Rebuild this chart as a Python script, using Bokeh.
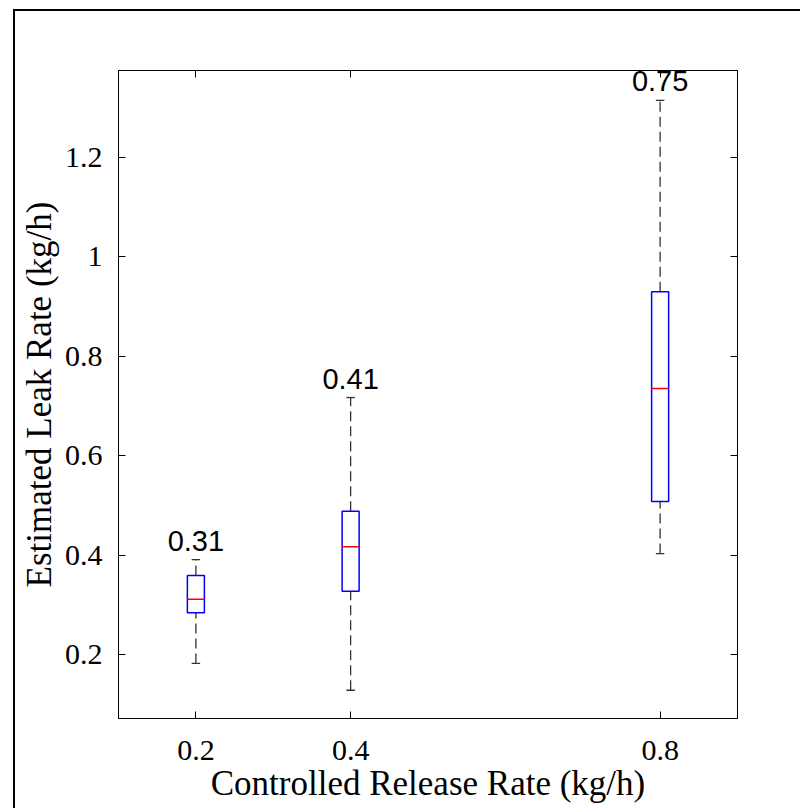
from bokeh.plotting import figure
from bokeh.models import ColumnDataSource, Range1d, LinearAxis, FixedTicker
from bokeh.core.properties import value
from bokeh.embed import file_html
from bokeh.resources import INLINE

positions = [0.2, 0.4, 0.8]
whisker_low = [0.182, 0.128, 0.403]
q1 = [0.284, 0.327, 0.508]
median = [0.311, 0.417, 0.735]
q3 = [0.359, 0.488, 0.930]
whisker_high = [0.391, 0.717, 1.315]
mean_labels = ["0.31", "0.41", "0.75"]
x_ticks = [0.2, 0.4, 0.8]
y_ticks = [0.2, 0.4, 0.6, 0.8, 1.0, 1.2]

box_w = 0.022
cap_w = box_w / 2

src = ColumnDataSource(dict(
    x=positions, lo=whisker_low, q1=q1, med=median, q3=q3, hi=whisker_high,
    left=[v - box_w / 2 for v in positions], right=[v + box_w / 2 for v in positions],
    cl=[v - cap_w / 2 for v in positions], cr=[v + cap_w / 2 for v in positions],
    label=mean_labels,
))

p = figure(width=787, height=799, output_backend="svg", toolbar_location=None,
           x_range=Range1d(0.1, 0.9), y_range=Range1d(0.0712, 1.375),
           min_border_left=103, min_border_top=59, min_border_right=65, min_border_bottom=92)
p.margin = (9, 0, 0, 13)
p.styles = {"border-left": "2px solid black", "border-top": "2px solid black"}
p.xgrid.visible = False
p.ygrid.visible = False
p.outline_line_color = "black"
p.outline_line_width = 1
p.background_fill_color = "white"
p.border_fill_color = "white"

serif = "Liberation Serif"
for ax in [p.xaxis[0], p.yaxis[0]]:
    ax.major_tick_in = 7
    ax.major_tick_out = 0
    ax.minor_tick_line_color = None
    ax.axis_line_color = "black"
    ax.major_tick_line_color = "black"
    ax.major_label_text_font = serif
    ax.major_label_text_font_size = "30px"
    ax.major_label_text_color = "black"
    ax.axis_label_text_font = serif
    ax.axis_label_text_font_size = "35px"
    ax.axis_label_text_font_style = "normal"
    ax.axis_label_text_color = "black"

p.xaxis[0].ticker = FixedTicker(ticks=x_ticks)
p.yaxis[0].ticker = FixedTicker(ticks=y_ticks)
p.xaxis[0].major_label_overrides = {0.2: "0.2", 0.4: "0.4", 0.8: "0.8"}
p.yaxis[0].major_label_overrides = {1.0: "1"}
p.xaxis[0].axis_label = "Controlled Release Rate (kg/h)"
p.yaxis[0].axis_label = "Estimated Leak Rate (kg/h)"
p.xaxis[0].major_label_standoff = 22
p.yaxis[0].major_label_standoff = 16
p.xaxis[0].axis_label_standoff = 1
p.yaxis[0].axis_label_standoff = 3

ax_top = LinearAxis(ticker=FixedTicker(ticks=x_ticks),
                    major_label_overrides={t: "" for t in x_ticks},
                    major_tick_in=7, major_tick_out=0, minor_tick_line_color=None,
                    axis_line_color="black")
ax_right = LinearAxis(ticker=FixedTicker(ticks=y_ticks),
                      major_label_overrides={t: "" for t in y_ticks},
                      major_tick_in=7, major_tick_out=0, minor_tick_line_color=None,
                      axis_line_color="black")
p.add_layout(ax_top, "above")
p.add_layout(ax_right, "right")

# whiskers
p.segment(x0="x", y0="q3", x1="x", y1="hi", source=src, line_color="#333333",
          line_width=1.3, line_dash="10 5")
p.segment(x0="x", y0="lo", x1="x", y1="q1", source=src, line_color="#333333",
          line_width=1.3, line_dash="10 5")
p.segment(x0="cl", y0="hi", x1="cr", y1="hi", source=src, line_color="#333333", line_width=1.3)
p.segment(x0="cl", y0="lo", x1="cr", y1="lo", source=src, line_color="#333333", line_width=1.3)
# boxes
p.quad(left="left", right="right", bottom="q1", top="q3", source=src,
       fill_color=None, line_color="#0000ff", line_width=1.5)
p.segment(x0="left", y0="med", x1="right", y1="med", source=src,
          line_color="#ff0000", line_width=1.5)
# labels
p.text(x="x", y="hi", text="label", source=src, text_font=value("Liberation Sans"),
       text_font_size="29px", text_align="center", text_baseline="alphabetic",
       y_offset=-19, text_color="black")

open("out.html", "w").write(file_html(p, INLINE))
